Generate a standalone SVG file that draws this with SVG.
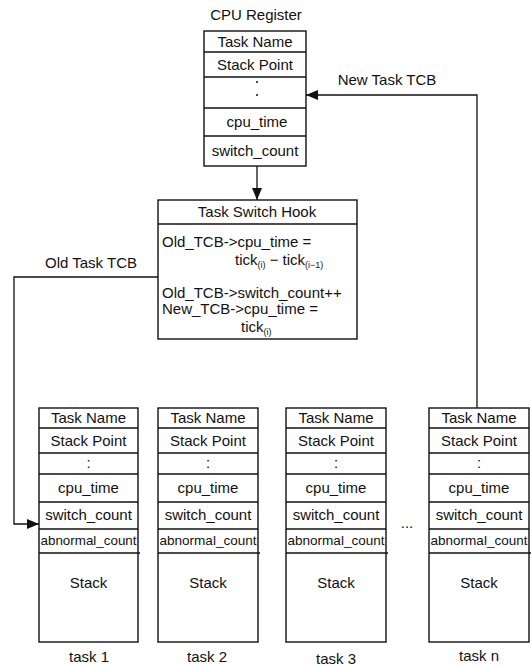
<svg xmlns="http://www.w3.org/2000/svg" width="532" height="666" viewBox="0 0 532 666">
<defs>
<style>
text{font-family:"Liberation Sans",Arial,sans-serif;font-size:15px;fill:#111;}
.c{text-anchor:middle;}
.sub{font-size:9px;}
.box{fill:#fff;stroke:#111;stroke-width:1.4;}
.ln{stroke:#111;stroke-width:1.3;fill:none;}
.ab{font-size:13.5px;}
.dot{fill:#111;}
</style>
<marker id="ah" viewBox="0 0 12 10" refX="12" refY="5" markerWidth="12" markerHeight="10" markerUnits="userSpaceOnUse" orient="auto">
<path d="M0,0 L12,5 L0,10 Z" fill="#111"/>
</marker>
</defs>
<rect width="532" height="666" fill="#fff"/>

<g id="cpu-register">
<text class="c" x="256" y="20">CPU Register</text>
<rect class="box" x="204" y="31" width="102" height="135"/>
<line class="ln" x1="204" y1="52" x2="306" y2="52"/>
<line class="ln" x1="204" y1="77" x2="306" y2="77"/>
<line class="ln" x1="204" y1="108" x2="306" y2="108"/>
<line class="ln" x1="204" y1="136" x2="306" y2="136"/>
<text class="c" x="255" y="47">Task Name</text>
<text class="c" x="255" y="70">Stack Point</text>
<circle class="dot" cx="257" cy="82" r="1"/>
<circle class="dot" cx="257" cy="95" r="1"/>
<text class="c" x="257" y="127">cpu_time</text>
<text class="c" x="255" y="156">switch_count</text>
</g>

<g id="task-switch-hook">
<rect class="box" x="158" y="200" width="199" height="139"/>
<line class="ln" x1="158" y1="224" x2="357" y2="224"/>
<text class="c" x="257" y="217">Task Switch Hook</text>
<text x="162" y="247">Old_TCB-&gt;cpu_time =</text>
<text x="235" y="265">tick<tspan class="sub" dy="3">(i)</tspan><tspan dy="-3"> − tick</tspan><tspan class="sub" dy="3">(i−1)</tspan></text>
<text x="162" y="298">Old_TCB-&gt;switch_count++</text>
<text x="162" y="314">New_TCB-&gt;cpu_time =</text>
<text x="241" y="332">tick<tspan class="sub" dy="3">(i)</tspan></text>
</g>

<g id="task1">
<rect class="box" x="39" y="408" width="99" height="234"/>
<line class="ln" x1="39" y1="428" x2="138" y2="428"/>
<line class="ln" x1="39" y1="453" x2="138" y2="453"/>
<line class="ln" x1="39" y1="474" x2="138" y2="474"/>
<line class="ln" x1="39" y1="502" x2="138" y2="502"/>
<line class="ln" x1="39" y1="529" x2="138" y2="529"/>
<line class="ln" x1="39" y1="553" x2="140" y2="553"/>
<text class="c" x="88.5" y="423">Task Name</text>
<text class="c" x="88.5" y="446">Stack Point</text>
<text class="c" x="88.5" y="468">:</text>
<text class="c" x="88.5" y="493">cpu_time</text>
<text class="c" x="88.5" y="520">switch_count</text>
<text class="c ab" x="88.5" y="545" textLength="96" lengthAdjust="spacingAndGlyphs">abnormal_count</text>
<text class="c" x="88.5" y="588">Stack</text>
<text class="c" x="89" y="662">task 1</text>
</g>

<g id="task2">
<rect class="box" x="158" y="408" width="100" height="234"/>
<line class="ln" x1="158" y1="428" x2="258" y2="428"/>
<line class="ln" x1="158" y1="453" x2="258" y2="453"/>
<line class="ln" x1="158" y1="474" x2="258" y2="474"/>
<line class="ln" x1="158" y1="502" x2="258" y2="502"/>
<line class="ln" x1="158" y1="529" x2="258" y2="529"/>
<line class="ln" x1="158" y1="553" x2="260" y2="553"/>
<text class="c" x="208" y="423">Task Name</text>
<text class="c" x="208" y="446">Stack Point</text>
<text class="c" x="208" y="468">:</text>
<text class="c" x="208" y="493">cpu_time</text>
<text class="c" x="208" y="520">switch_count</text>
<text class="c ab" x="208" y="545" textLength="97" lengthAdjust="spacingAndGlyphs">abnormal_count</text>
<text class="c" x="208" y="588">Stack</text>
<text class="c" x="207" y="662">task 2</text>
</g>

<g id="task3">
<rect class="box" x="286" y="408" width="100" height="234"/>
<line class="ln" x1="286" y1="428" x2="386" y2="428"/>
<line class="ln" x1="286" y1="453" x2="386" y2="453"/>
<line class="ln" x1="286" y1="474" x2="386" y2="474"/>
<line class="ln" x1="286" y1="502" x2="386" y2="502"/>
<line class="ln" x1="286" y1="529" x2="386" y2="529"/>
<line class="ln" x1="286" y1="553" x2="388" y2="553"/>
<text class="c" x="336" y="423">Task Name</text>
<text class="c" x="336" y="446">Stack Point</text>
<text class="c" x="336" y="468">:</text>
<text class="c" x="336" y="493">cpu_time</text>
<text class="c" x="336" y="520">switch_count</text>
<text class="c ab" x="336" y="545" textLength="97" lengthAdjust="spacingAndGlyphs">abnormal_count</text>
<text class="c" x="336" y="588">Stack</text>
<text class="c" x="336" y="664">task 3</text>
</g>

<text class="c" x="407" y="528">...</text>

<g id="taskn">
<rect class="box" x="429" y="408" width="100" height="234"/>
<line class="ln" x1="429" y1="428" x2="529" y2="428"/>
<line class="ln" x1="429" y1="453" x2="529" y2="453"/>
<line class="ln" x1="429" y1="474" x2="529" y2="474"/>
<line class="ln" x1="429" y1="502" x2="529" y2="502"/>
<line class="ln" x1="429" y1="529" x2="529" y2="529"/>
<line class="ln" x1="429" y1="553" x2="531" y2="553"/>
<text class="c" x="479" y="423">Task Name</text>
<text class="c" x="479" y="446">Stack Point</text>
<text class="c" x="479" y="468">:</text>
<text class="c" x="479" y="493">cpu_time</text>
<text class="c" x="479" y="520">switch_count</text>
<text class="c ab" x="479" y="545" textLength="97" lengthAdjust="spacingAndGlyphs">abnormal_count</text>
<text class="c" x="479" y="588">Stack</text>
<text class="c" x="479" y="661">task n</text>
</g>

<g id="connectors">
<line class="ln" x1="257" y1="166" x2="257" y2="200" marker-end="url(#ah)"/>
<polyline class="ln" points="477,408 477,95 306,95" marker-end="url(#ah)"/>
<polyline class="ln" points="158,277 14,277 14,524 39,524" marker-end="url(#ah)"/>
<text class="c" x="387" y="85">New Task TCB</text>
<text class="c" x="91" y="268">Old Task TCB</text>
</g>
</svg>
